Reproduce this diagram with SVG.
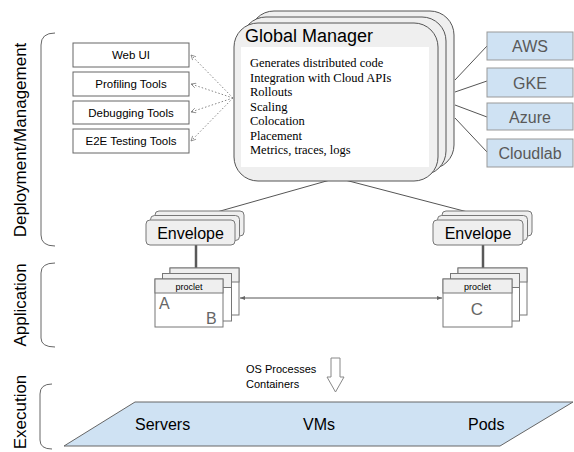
<svg xmlns="http://www.w3.org/2000/svg" width="574" height="452" viewBox="0 0 574 452">
<defs>
<marker id="openArrow" viewBox="0 0 10 10" refX="9" refY="5" markerWidth="6" markerHeight="6" orient="auto-start-reverse" markerUnits="userSpaceOnUse">
<path d="M1,1 L9,5 L1,9" fill="none" stroke="#777" stroke-width="1.2"/>
</marker>
<marker id="solidArrow" viewBox="0 0 10 10" refX="9" refY="5" markerWidth="6" markerHeight="6" orient="auto-start-reverse" markerUnits="userSpaceOnUse">
<path d="M0,1.5 L9,5 L0,8.5 Z" fill="#666"/>
</marker>
</defs>
<style>
.sans{font-family:"Liberation Sans",Arial,sans-serif}
.serif{font-family:"Liberation Serif","Times New Roman",serif}
.gm{fill:#efefef;stroke:#555;stroke-width:1}
.tool{fill:#fff;stroke:#666;stroke-width:1}
.cloud{fill:#cfe2f3;stroke:#999;stroke-width:1}
.env{fill:#efefef;stroke:#777;stroke-width:1}
.pbody{fill:#fff;stroke:#777;stroke-width:1}
.phead{fill:#efefef;stroke:#777;stroke-width:1}
.bracket{fill:none;stroke:#666;stroke-width:1}
.conn{fill:none;stroke:#555;stroke-width:1}
.dot{fill:none;stroke:#888;stroke-width:1;stroke-dasharray:1.5 2}
.thick{stroke:#595959;stroke-width:2.5}
</style>

<g id="labels">
<text class="sans" font-size="17" fill="#000" text-anchor="middle" transform="translate(26,140) rotate(-90)">Deployment/Management</text>
<text class="sans" font-size="17" fill="#000" text-anchor="middle" transform="translate(26,305) rotate(-90)">Application</text>
<text class="sans" font-size="17" fill="#000" text-anchor="middle" transform="translate(26,412) rotate(-90)">Execution</text>
<path class="bracket" d="M55,33 Q41,33 41,45 L41,235 Q41,246 55,246"/>
<path class="bracket" d="M55,263 Q41,263 41,273 L41,338 Q41,347 55,347"/>
<path class="bracket" d="M52,384 Q40,384 40,394 L40,440 Q40,449 52,449"/>
</g>

<g id="connectors">
<line class="dot" x1="233" y1="98" x2="191" y2="55" marker-end="url(#openArrow)"/>
<line class="dot" x1="233" y1="98" x2="191" y2="84" marker-end="url(#openArrow)"/>
<line class="dot" x1="233" y1="98" x2="191" y2="112" marker-end="url(#openArrow)"/>
<line class="dot" x1="233" y1="98" x2="191" y2="141" marker-end="url(#openArrow)"/>
<line class="conn" x1="455" y1="80" x2="487" y2="46"/>
<line class="conn" x1="455" y1="92" x2="487" y2="81"/>
<line class="conn" x1="455" y1="105" x2="487" y2="117"/>
<line class="conn" x1="455" y1="118" x2="487" y2="152"/>
<line class="conn" x1="330" y1="180" x2="192" y2="219"/>
<line class="conn" x1="345" y1="180" x2="483" y2="216"/>
<line class="thick" x1="196" y1="245" x2="196" y2="268"/>
<line class="thick" x1="483" y1="245" x2="483" y2="268"/>
<line class="conn" x1="240" y1="298" x2="442" y2="298" marker-start="url(#solidArrow)" marker-end="url(#solidArrow)"/>
</g>

<g id="global-manager">
<rect class="gm" x="250" y="11" width="204" height="158" rx="24"/>
<rect class="gm" x="242" y="17" width="204" height="158" rx="24"/>
<rect class="gm" x="234" y="23" width="204" height="158" rx="24"/>
<rect x="241" y="47" width="188" height="120" fill="#fff"/>
<text class="sans" x="245" y="42" font-size="18" fill="#000">Global Manager</text>
<text class="serif" font-size="12.5" fill="#000">
<tspan x="250" y="67">Generates distributed code</tspan>
<tspan x="250" y="81.5">Integration with Cloud APIs</tspan>
<tspan x="250" y="96">Rollouts</tspan>
<tspan x="250" y="110.5">Scaling</tspan>
<tspan x="250" y="125">Colocation</tspan>
<tspan x="250" y="139.5">Placement</tspan>
<tspan x="250" y="154">Metrics, traces, logs</tspan>
</text>
</g>

<g id="web-ui"><rect class="tool" x="73" y="43" width="116" height="24"/><text class="sans" x="131" y="59" font-size="11.5" text-anchor="middle">Web UI</text></g>
<g id="profiling-tools"><rect class="tool" x="73" y="72" width="116" height="24"/><text class="sans" x="131" y="88" font-size="11.5" text-anchor="middle">Profiling Tools</text></g>
<g id="debugging-tools"><rect class="tool" x="73" y="101" width="116" height="23"/><text class="sans" x="131" y="116.5" font-size="11.5" text-anchor="middle">Debugging Tools</text></g>
<g id="e2e-testing-tools"><rect class="tool" x="73" y="129" width="116" height="24"/><text class="sans" x="131" y="145" font-size="11.5" text-anchor="middle">E2E Testing Tools</text></g>

<g id="aws"><rect class="cloud" x="487" y="32" width="86" height="28"/><text class="sans" x="530" y="52" font-size="16" fill="#595959" text-anchor="middle">AWS</text></g>
<g id="gke"><rect class="cloud" x="487" y="68" width="86" height="29"/><text class="sans" x="530" y="88.5" font-size="16" fill="#595959" text-anchor="middle">GKE</text></g>
<g id="azure"><rect class="cloud" x="487" y="103" width="86" height="27"/><text class="sans" x="530" y="122.5" font-size="16" fill="#595959" text-anchor="middle">Azure</text></g>
<g id="cloudlab"><rect class="cloud" x="487" y="139" width="86" height="28"/><text class="sans" x="530" y="159" font-size="16" fill="#595959" text-anchor="middle">Cloudlab</text></g>

<g id="envelope-left">
<rect class="env" x="155" y="211" width="89" height="25" rx="4"/>
<rect class="env" x="150.5" y="215.5" width="89" height="25" rx="4"/>
<rect class="env" x="146" y="220" width="89" height="25" rx="4"/>
<text class="sans" x="190.5" y="238.5" font-size="16" text-anchor="middle">Envelope</text>
</g>
<g id="envelope-right">
<rect class="env" x="442" y="211" width="90" height="25" rx="4"/>
<rect class="env" x="437.5" y="215.5" width="90" height="25" rx="4"/>
<rect class="env" x="433" y="220" width="90" height="25" rx="4"/>
<text class="sans" x="478" y="238.5" font-size="16" text-anchor="middle">Envelope</text>
</g>

<g id="proclet-left">
<rect class="pbody" x="170" y="268" width="69" height="47"/><rect class="phead" x="170" y="268" width="69" height="14"/>
<rect class="pbody" x="162.5" y="273.5" width="69" height="47.5"/><rect class="phead" x="162.5" y="273.5" width="69" height="14"/>
<rect class="pbody" x="155" y="279" width="68" height="48"/><rect class="phead" x="155" y="279" width="68" height="14"/>
<text class="sans" x="189" y="290" font-size="9" text-anchor="middle">proclet</text>
<text class="sans" x="159" y="309" font-size="16" fill="#666">A</text>
<text class="sans" x="206" y="324" font-size="16" fill="#666">B</text>
</g>
<g id="proclet-right">
<rect class="pbody" x="458" y="268" width="69" height="47"/><rect class="phead" x="458" y="268" width="69" height="14"/>
<rect class="pbody" x="450.5" y="273.5" width="69" height="47.5"/><rect class="phead" x="450.5" y="273.5" width="69" height="14"/>
<rect class="pbody" x="443" y="279" width="69" height="48"/><rect class="phead" x="443" y="279" width="69" height="14"/>
<text class="sans" x="477.5" y="290" font-size="9" text-anchor="middle">proclet</text>
<text class="sans" x="477" y="315" font-size="17" fill="#666" text-anchor="middle">C</text>
</g>

<g id="os-arrow">
<path d="M331,358 L340,358 L340,377 L344,377 L335.5,392 L327,377 L331,377 Z" fill="#fff" stroke="#888" stroke-width="1"/>
<text class="sans" font-size="11" fill="#000"><tspan x="246" y="373">OS Processes</tspan><tspan x="246" y="388">Containers</tspan></text>
</g>

<g id="execution-platform">
<path d="M135,402 L573,402 L500,446 L64,446 Z" fill="#cfe2f3" stroke="#666" stroke-width="1"/>
<text class="sans" x="135" y="430" font-size="16" fill="#000">Servers</text>
<text class="sans" x="303" y="430" font-size="16" fill="#000">VMs</text>
<text class="sans" x="468" y="430" font-size="16" fill="#000">Pods</text>
</g>
</svg>
